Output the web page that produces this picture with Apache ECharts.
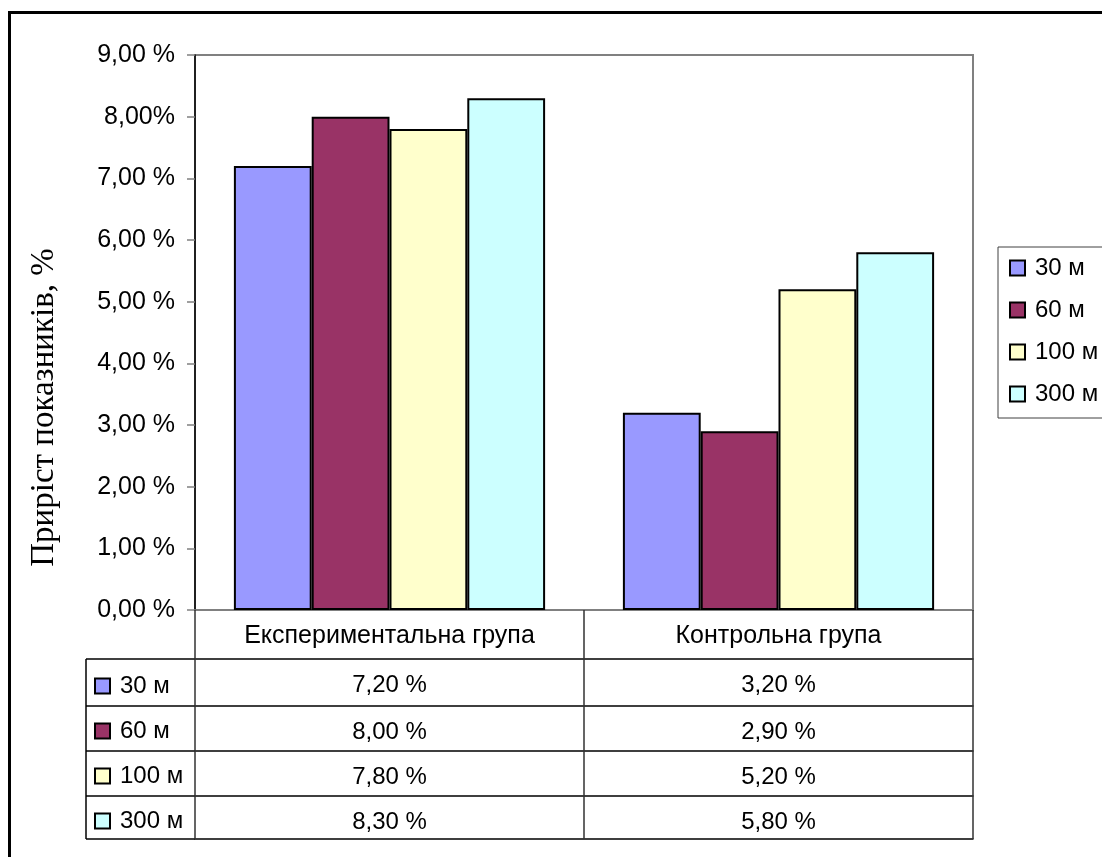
<!DOCTYPE html>
<html>
<head>
<meta charset="utf-8">
<script src="https://cdn.jsdelivr.net/npm/echarts@6/dist/echarts.min.js"></script>
<style>
    html, body { margin: 0; padding: 0; background: #fff; }
    #chart { width: 1102px; height: 857px; }
</style>
</head>
<body>
<div id="chart"></div>
<script>
const categories = ["Експериментальна група", "Контрольна група"];
const seriesNames = ["30 м", "60 м", "100 м", "300 м"];
const seriesColors = ["#9999FF", "#993366", "#FFFFCC", "#CCFFFF"];
const values30 = [7.2, 3.2];
const values60 = [8.0, 2.9];
const values100 = [7.8, 5.2];
const values300 = [8.3, 5.8];
const yTickLabels = ["0,00 %", "1,00 %", "2,00 %", "3,00 %", "4,00 %", "5,00 %", "6,00 %", "7,00 %", "8,00%", "9,00 %"];

const allValues = [values30, values60, values100, values300];
const fmt = (v) => v.toFixed(2).replace(".", ",") + " %";

const FONT = "'Liberation Sans', Arial, sans-serif";
const plotBottom = 610;
const rowTops = [659, 706, 751, 796];
const tableBottom = 839;
const tableLeft = 86;
const gridLeft = 195;

const chart = echarts.init(document.getElementById("chart"));

// one extra x axis per table row, so the cell texts come straight from the data
const rowAxes = allValues.map((vals, i) => ({
    type: "category",
    gridIndex: 0,
    position: "bottom",
    offset: rowTops[i] - plotBottom,
    data: vals.map(fmt),
    axisLine: { show: true, lineStyle: { color: "#000", width: 1.5 } },
    axisTick: { show: false },
    splitLine: { show: false },
    axisLabel: { interval: 0, margin: 14, fontSize: 24, fontFamily: FONT, color: "#000" },
}));

const closingAxis = {
    type: "category",
    gridIndex: 0,
    position: "bottom",
    offset: tableBottom - plotBottom,
    data: categories,
    axisLine: { show: true, lineStyle: { color: "#000", width: 1.5 } },
    axisTick: { show: false },
    axisLabel: { show: false },
    splitLine: { show: false },
};

const legendBase = {
    orient: "vertical",
    selectedMode: false,
    data: seriesNames,
    itemWidth: 15,
    itemHeight: 15,
    icon: "rect",
    itemStyle: { borderColor: "#000", borderWidth: 2 },
    textStyle: { fontSize: 24, lineHeight: 24, fontFamily: FONT, color: "#000", padding: [0, 0, 0, 5] },
};

const leftColumnLines = rowTops.concat([tableBottom]).map((y) => ({
    type: "line",
    shape: { x1: tableLeft, y1: y, x2: gridLeft, y2: y },
    style: { stroke: "#000", lineWidth: 1.5 },
}));

const option = {
    backgroundColor: "#fff",
    animation: false,
    grid: {
        left: gridLeft,
        top: 55,
        right: 1102 - 973,
        bottom: 857 - plotBottom,
        show: true,
        borderColor: "#808080",
        borderWidth: 2,
    },
    legend: [
        Object.assign({}, legendBase, {
            left: 998,
            top: 247,
            padding: [9, 20, 12, 11],
            itemGap: 18,
            borderColor: "#404040",
            borderWidth: 1,
        }),
        Object.assign({}, legendBase, {
            left: 94,
            top: 674,
            padding: 0,
            itemGap: 21,
        }),
    ],
    xAxis: [
        {
            type: "category",
            gridIndex: 0,
            data: categories,
            axisLine: { show: true, lineStyle: { color: "#808080", width: 1.5 } },
            axisTick: { show: true, interval: 0, length: tableBottom - plotBottom, lineStyle: { color: "#333", width: 1.5 } },
            axisLabel: { interval: 0, margin: 14, fontSize: 25, fontFamily: FONT, color: "#000" },
            splitLine: { show: false },
        },
    ].concat(rowAxes, [closingAxis]),
    yAxis: {
        type: "value",
        min: 0,
        max: 9,
        interval: 1,
        name: "Приріст показників, %",
        nameLocation: "middle",
        nameGap: 134,
        nameTextStyle: {
            fontSize: 33,
            fontFamily: "'Liberation Serif', 'Times New Roman', serif",
            color: "#000",
            padding: [0, 150, 0, 0],
        },
        axisLine: { show: true, lineStyle: { color: "#000", width: 1.5 } },
        axisTick: { show: true, length: 8, lineStyle: { color: "#808080", width: 1.5 } },
        axisLabel: {
            margin: 20,
            fontSize: 25,
            fontFamily: FONT,
            color: "#000",
            formatter: (v) => yTickLabels[Math.round(v)],
        },
        splitLine: { show: false },
    },
    series: seriesNames.map((name, i) => ({
        name: name,
        type: "bar",
        xAxisIndex: 0,
        barGap: "0%",
        barCategoryGap: "20%",
        itemStyle: { color: seriesColors[i], borderColor: "#000", borderWidth: 2 },
        data: allValues[i],
    })),
    graphic: [
        {
            type: "rect",
            shape: { x: 9.5, y: 12.5, width: 1200, height: 1000 },
            style: { fill: "none", stroke: "#000", lineWidth: 3 },
            silent: true,
        },
        {
            type: "line",
            shape: { x1: tableLeft, y1: rowTops[0], x2: tableLeft, y2: tableBottom },
            style: { stroke: "#000", lineWidth: 1.5 },
        },
    ].concat(leftColumnLines),
};

chart.setOption(option);
window.addEventListener("resize", () => chart.resize());
</script>
</body>
</html>
